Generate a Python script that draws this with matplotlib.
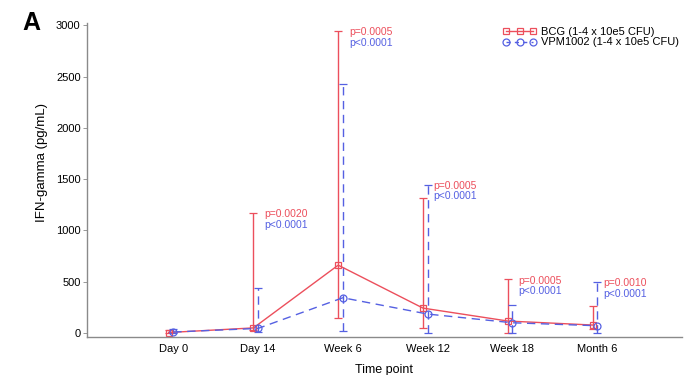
import matplotlib
matplotlib.use("Agg")
import matplotlib.pyplot as plt
from matplotlib.lines import Line2D
import numpy as np

plt.rcParams['font.family'] = ['Liberation Sans', 'DejaVu Sans']

# time points and values (pg/mL)
timepoints = ["Day 0", "Day 14", "Week 6", "Week 12", "Week 18", "Month 6"]
bcg_mid = [5, 50, 662, 243, 117, 78]
bcg_low = [0, 30, 149, 52, 3, 40]
bcg_high = [30, 1171, 2945, 1314, 523, 266]
vpm_mid = [10, 45, 344, 185, 100, 71]
vpm_low = [0, 13, 22, 3, 3, 3]
vpm_high = [35, 438, 2431, 1448, 272, 500]
p_bcg = ["", "p=0.0020", "p=0.0005", "p=0.0005", "p=0.0005", "p=0.0010"]
p_vpm = ["", "p<0.0001", "p<0.0001", "p<0.0001", "p<0.0001", "p<0.0001"]

red = "#ec4f5c"
blue = "#5560e2"
dash = (0, (6, 4))


def main():
    fig = plt.figure(figsize=(6.84, 3.75), dpi=100)
    ax = fig.add_axes([0.127, 0.101, 0.87, 0.838])

    x = np.arange(len(timepoints))
    xb = x - 0.055

    # BCG: solid line, open squares
    yerr_b = [np.array(bcg_mid) - np.array(bcg_low),
              np.array(bcg_high) - np.array(bcg_mid)]
    ax.errorbar(xb, bcg_mid, yerr=yerr_b, color=red, lw=1.0,
                marker="s", ms=5, mfc="none", mec=red, mew=0.9,
                capsize=3, elinewidth=1.0, capthick=1.0)

    # VPM1002: dashed line, open circles
    yerr_v = [np.array(vpm_mid) - np.array(vpm_low),
              np.array(vpm_high) - np.array(vpm_mid)]
    ev = ax.errorbar(x, vpm_mid, yerr=yerr_v, color=blue, lw=1.0,
                     ls=dash, marker="o", ms=5, mfc="none", mec=blue,
                     mew=0.9, capsize=3, elinewidth=1.0, capthick=1.0)
    for bar in ev[2]:
        bar.set_linestyle(dash)

    # p-value labels next to the top of each error bar
    for i in range(len(timepoints)):
        if p_bcg[i] == "":
            continue
        top = max(bcg_high[i], vpm_high[i])
        ax.annotate(p_bcg[i], (x[i] + 0.07, top), xytext=(0, -1),
                    textcoords="offset points", color=red, fontsize=7.5,
                    va="center", ha="left")
        ax.annotate(p_vpm[i], (x[i] + 0.07, top), xytext=(0, -8.5),
                    textcoords="offset points", color=blue, fontsize=7.5,
                    va="center", ha="left")

    ax.set_xlim(-1.02, 6.0)
    ax.set_ylim(-40, 3025)
    ax.set_yticks([0, 500, 1000, 1500, 2000, 2500, 3000])
    ax.set_xticks(x)
    ax.set_xticklabels(timepoints, fontsize=8)
    ax.tick_params(axis="y", labelsize=8, length=3, width=0.6,
                   color="#888888", pad=1.5)
    ax.tick_params(axis="x", length=0, pad=5)
    ax.set_xlabel("Time point", fontsize=9, labelpad=7)
    ax.set_ylabel("IFN-gamma (pg/mL)", fontsize=9.5)
    ax.yaxis.set_label_coords(-0.066, 0.555)

    for side in ["top", "right"]:
        ax.spines[side].set_visible(False)
    for side in ["left", "bottom"]:
        ax.spines[side].set_color("#8a8a8a")
        ax.spines[side].set_linewidth(1.0)

    handles = [
        Line2D([], [], color=red, lw=1.0, marker="s", ms=5, mfc="none",
               mec=red, mew=0.9),
        Line2D([], [], color=blue, lw=1.0, ls=(0, (3, 3)), marker="o",
               ms=5, mfc="none", mec=blue, mew=0.9),
    ]
    ax.legend(handles, ["BCG (1-4 x 10e5 CFU)", "VPM1002 (1-4 x 10e5 CFU)"],
              loc="upper right", bbox_to_anchor=(1.008, 1.012), frameon=False,
              fontsize=8, numpoints=3, handlelength=3.0, handletextpad=0.4,
              labelspacing=0.05, borderaxespad=0.3)

    fig.text(0.032, 0.94, "A", fontsize=18, fontweight="bold",
             va="center", ha="left")

    fig.savefig("out.png", dpi=100)


main()
